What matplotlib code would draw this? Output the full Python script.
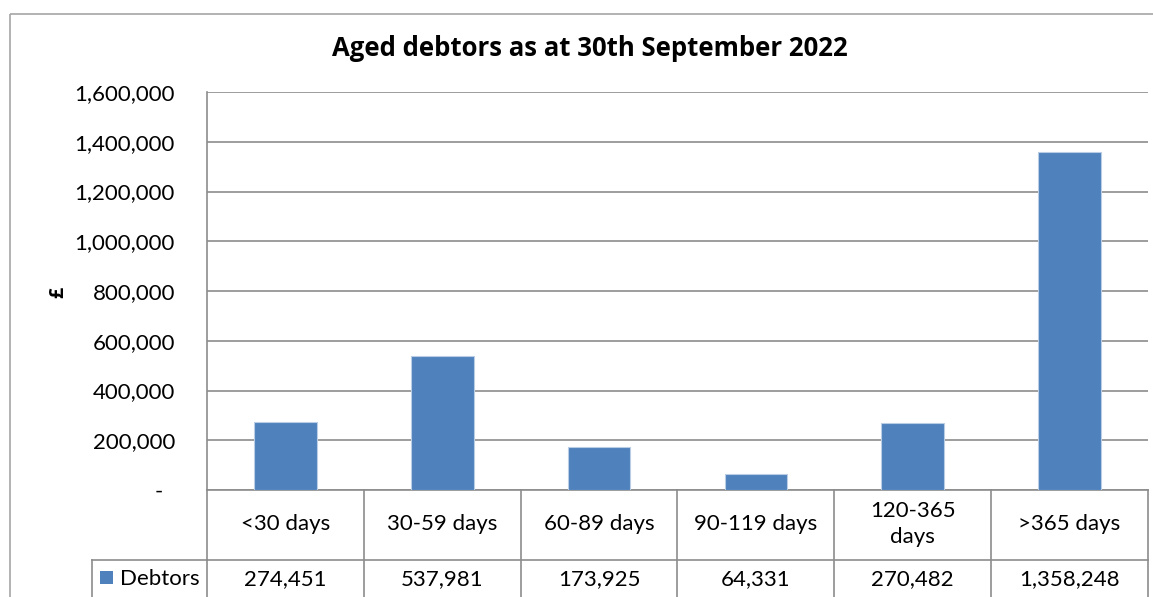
import matplotlib
matplotlib.use("Agg")
import matplotlib.pyplot as plt
import matplotlib.transforms as mtransforms
from matplotlib.patches import Rectangle
from matplotlib.ticker import FuncFormatter

categories = ["<30 days", "30-59 days", "60-89 days", "90-119 days", "120-365\ndays", ">365 days"]
debtors = [274451, 537981, 173925, 64331, 270482, 1358248]
series_name = "Debtors"
title = "Aged debtors as at 30th September 2022"
yticks = [0, 200000, 400000, 600000, 800000, 1000000, 1200000, 1400000, 1600000]

W, H = 1153, 597
bar_color = "#4F81BD"
line_color = "#8C8C8C"
font = "Lato"
plt.rcParams["font.family"] = [font, "DejaVu Sans"]

fig = plt.figure(figsize=(W / 100, H / 100), dpi=100)
# pixel coords, y measured from top
pix = mtransforms.Affine2D().scale(1 / W, -1 / H).translate(0, 1) + fig.transFigure

left, right, top, bottom = 207, 1148, 92, 490
ax = fig.add_axes([left / W, 1 - bottom / H, (right - left) / W, (bottom - top) / H])

x = list(range(len(categories)))
ax.bar(x, debtors, width=0.4, color=bar_color, edgecolor="#B9CDE5", linewidth=0.8, zorder=3)
ax.set_xlim(-0.5, len(categories) - 0.5)
ax.set_ylim(0, 1600000)
ax.set_yticks(yticks)
ax.yaxis.set_major_formatter(FuncFormatter(lambda v, p: "-  " if v == 0 else "{:,.0f}".format(v)))
ax.tick_params(axis="y", length=0, pad=23, labelsize=16, labelcolor="black")
ax.set_xticks([])
ax.grid(axis="y", color=line_color, linewidth=1.2, zorder=0)
for s in ["top", "right", "bottom"]:
    ax.spines[s].set_visible(False)
ax.spines["left"].set_color(line_color)
ax.spines["left"].set_linewidth(1.2)

# outer chart border
fig.add_artist(Rectangle((10, 14), 1200, 700, transform=pix, fill=False,
                         edgecolor="#A6A6A6", linewidth=1.2))

fig.text(590, 49, title, transform=pix, ha="center", va="center",
         fontsize=18.5, fontweight="bold", family=["Open Sans", "DejaVu Sans"])
fig.text(58, 292, "£", transform=pix, ha="center", va="center",
         fontsize=14, fontweight="bold", rotation=90, family=["Open Sans", "DejaVu Sans"])

# data table under the axis
tx = mtransforms.blended_transform_factory(ax.transData, pix)
row1, row2, row3 = 490, 560, 640
kw = dict(color=line_color, linewidth=1.2, clip_on=False)
ax.plot([-0.5, len(categories) - 0.5], [row1, row1], transform=tx, **kw)
ax.plot([-0.5, len(categories) - 0.5], [row2, row2], transform=tx, **kw)
for i in range(len(categories) + 1):
    ax.plot([i - 0.5, i - 0.5], [row1, row3], transform=tx, **kw)
fig.add_artist(plt.Line2D([92, left], [row2, row2], transform=pix, color=line_color, linewidth=1.2))
fig.add_artist(plt.Line2D([92, 92], [row2, row3], transform=pix, color=line_color, linewidth=1.2))

for i, (c, v) in enumerate(zip(categories, debtors)):
    ax.text(i, 524, c, transform=tx, ha="center", va="center", fontsize=16, linespacing=1.35)
    ax.text(i, 579, "{:,.0f}".format(v), transform=tx, ha="center", va="center", fontsize=16)

fig.add_artist(Rectangle((100, 571), 13, 13, transform=pix, facecolor=bar_color, edgecolor="none"))
fig.text(120, 579, series_name, transform=pix, ha="left", va="center", fontsize=16)

fig.savefig("out.png", dpi=100)
